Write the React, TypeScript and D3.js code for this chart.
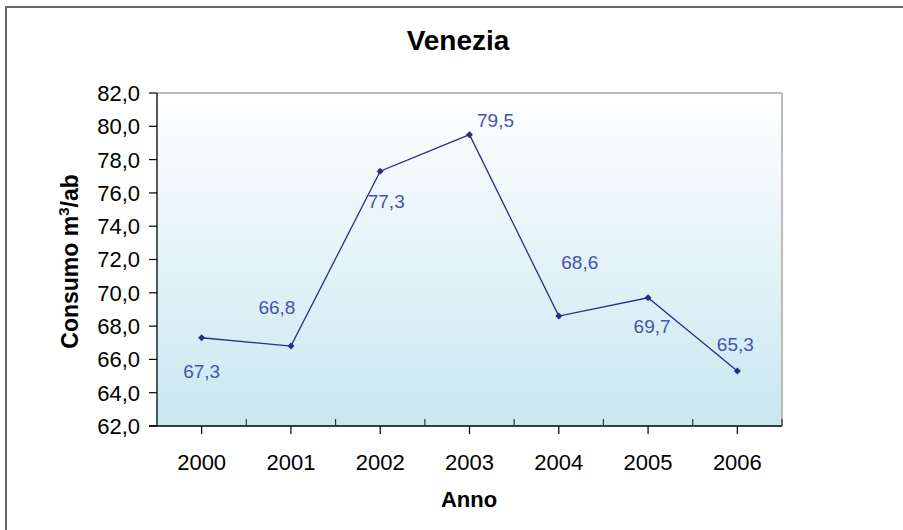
import React from "react";
import * as d3 from "d3";

const years = ["2000", "2001", "2002", "2003", "2004", "2005", "2006"];
const consumo = [67.3, 66.8, 77.3, 79.5, 68.6, 69.7, 65.3];
const yTicks = [62, 64, 66, 68, 70, 72, 74, 76, 78, 80, 82];
// label offsets (dx, dy) relative to the point, mimicking the Excel placement
const labelOffsets: [number, number][] = [
  [0, 33], [-14, -39], [6, 30], [26, -14], [21, -54], [4, 28], [-2, -27],
];

export default function App() {
  const W = 903, H = 530;
  const left = 157, right = 782, top = 93, bottom = 426;
  const x = d3.scaleBand<string>().domain(years).range([left, right]);
  const y = d3.scaleLinear().domain([62, 82]).range([bottom, top]);
  const cx = (d: string) => (x(d) as number) + x.bandwidth() / 2;
  const line = d3
    .line<number>()
    .x((_, i) => cx(years[i]))
    .y((d) => y(d));
  const fmt = (v: number) => v.toFixed(1).replace(".", ",");
  const font = "Liberation Sans, Arial, sans-serif";
  const boundaries = years.map((d) => (x(d) as number) + x.bandwidth());

  return (
    <svg width={W} height={H} style={{ position: "absolute", left: 0, top: 0, background: "#fff" }} fontFamily={font}>
      <defs>
        <linearGradient id="bg" x1="0" y1="0" x2="0" y2="1">
          <stop offset="0" stopColor="#ffffff" />
          <stop offset="1" stopColor="#c9e7f0" />
        </linearGradient>
      </defs>
      <rect x={6} y={7} width={1000} height={1000} fill="none" stroke="#666" strokeWidth={2} />
      <text x={458} y={50} textAnchor="middle" fontSize={28} fontWeight="bold" fill="#000">Venezia</text>
      <rect x={left} y={top} width={right - left} height={bottom - top} fill="url(#bg)" />
      <line x1={left} y1={top} x2={right} y2={top} stroke="#a6a6a6" strokeWidth={1.5} />
      <line x1={right} y1={top} x2={right} y2={bottom} stroke="#a6a6a6" strokeWidth={1.5} />
      {/* y axis */}
      <line x1={left} y1={top} x2={left} y2={bottom} stroke="#000" strokeWidth={1.3} />
      {yTicks.map((t) => (
        <g key={t}>
          <line x1={left - 8} x2={left} y1={y(t)} y2={y(t)} stroke="#000" strokeWidth={1.2} />
          <text x={140} y={y(t)} dy="0.36em" textAnchor="end" fontSize={22} fill="#000">{fmt(t)}</text>
        </g>
      ))}
      {/* x axis */}
      <line x1={left - 8} y1={bottom} x2={right} y2={bottom} stroke="#000" strokeWidth={1.3} />
      {boundaries.map((b, i) => (
        <line key={"b" + i} x1={b} x2={b} y1={bottom - 7} y2={bottom} stroke="#333" strokeWidth={1.2} />
      ))}
      {years.map((d) => (
        <g key={d}>
          <line x1={cx(d)} x2={cx(d)} y1={bottom} y2={bottom + 8} stroke="#000" strokeWidth={1.2} />
          <text x={cx(d)} y={470} textAnchor="middle" fontSize={22} fill="#000">{d}</text>
        </g>
      ))}
      <text x={469} y={507} textAnchor="middle" fontSize={22} fontWeight="bold" fill="#000">Anno</text>
      <text transform={`translate(78,${(top + bottom) / 2 + 2}) rotate(-90)`} textAnchor="middle" fontSize={23} fontWeight="bold" fill="#000">
        Consumo m<tspan dy="-9" fontSize={15}>3</tspan><tspan dy="9">/ab</tspan>
      </text>
      {/* series */}
      <path d={line(consumo) as string} fill="none" stroke="#2b2b8c" strokeWidth={1.3} />
      {consumo.map((v, i) => {
        const px = cx(years[i]), py = y(v);
        return (
          <g key={i}>
            <path d={`M${px},${py - 3.5}L${px + 3.5},${py}L${px},${py + 3.5}L${px - 3.5},${py}Z`} fill="#2b2b8c" />
            <text x={px + labelOffsets[i][0]} y={py + labelOffsets[i][1]} dy="0.36em" textAnchor="middle" fontSize={19} fill="#4455aa">{fmt(v)}</text>
          </g>
        );
      })}
    </svg>
  );
}
